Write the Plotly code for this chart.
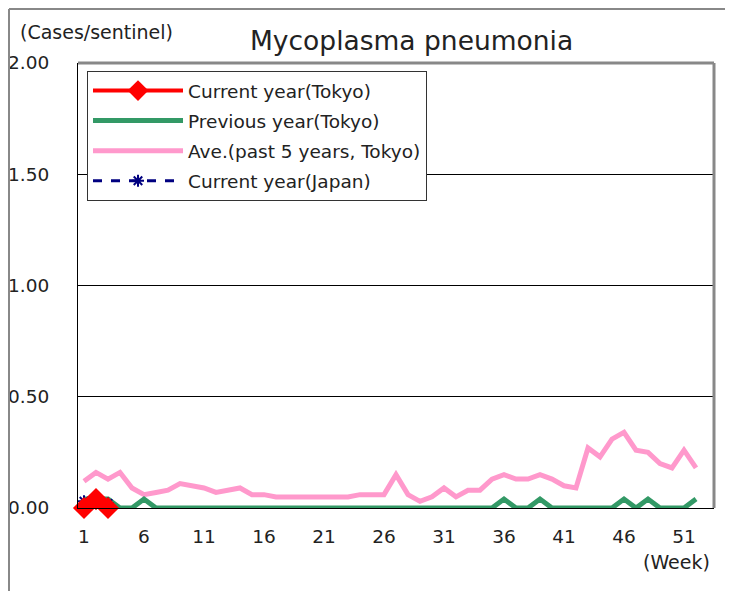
import plotly.graph_objects as go

weeks = list(range(1, 53))
current_tokyo_weeks = [1, 2, 3]
current_tokyo = [0.0, 0.04, 0.0]
current_japan = [0.03, 0.03, 0.02]
previous_tokyo = [0.04, 0.04, 0.04, 0, 0, 0.04, 0, 0, 0, 0,
                  0, 0, 0, 0, 0, 0, 0, 0, 0, 0,
                  0, 0, 0, 0, 0, 0, 0, 0, 0, 0,
                  0, 0, 0, 0, 0, 0.04, 0, 0, 0.04, 0,
                  0, 0, 0, 0, 0, 0.04, 0, 0.04, 0, 0,
                  0, 0.04]
ave_5y = [0.12, 0.16, 0.13, 0.16, 0.09, 0.06, 0.07, 0.08, 0.11, 0.10,
          0.09, 0.07, 0.08, 0.09, 0.06, 0.06, 0.05, 0.05, 0.05, 0.05,
          0.05, 0.05, 0.05, 0.06, 0.06, 0.06, 0.15, 0.06, 0.03, 0.05,
          0.09, 0.05, 0.08, 0.08, 0.13, 0.15, 0.13, 0.13, 0.15, 0.13,
          0.10, 0.09, 0.27, 0.23, 0.31, 0.34, 0.26, 0.25, 0.20, 0.18,
          0.26, 0.18]
x_tick_vals = [1, 6, 11, 16, 21, 26, 31, 36, 41, 46, 51]
x_minor_ticks = [5.5, 10.5, 15.5, 20.5, 25.5, 30.5, 35.5, 40.5, 45.5, 50.5]
y_tick_vals = [0, 0.5, 1.0, 1.5, 2.0]

FONT = "DejaVu Sans"
OFF = 8  # page body margin
W, H = 725, 583
L, R, T, B = 70, 19, 55, 83
pw, ph = W - L - R, H - T - B

def px(x):  # screen x -> paper
    return (x - OFF - L) / pw

def py(y):  # screen y -> paper
    return (H - B - (y - OFF)) / ph

fig = go.Figure()
fig.add_trace(go.Scatter(x=weeks, y=ave_5y, mode="lines", name="Ave.(past 5 years, Tokyo)",
                         line=dict(color="#FF99CC", width=5), legendrank=3, legendgroup="c"))
fig.add_trace(go.Scatter(x=weeks, y=previous_tokyo, mode="lines", name="Previous year(Tokyo)",
                         line=dict(color="#339966", width=5), legendrank=2, legendgroup="b"))
fig.add_trace(go.Scatter(x=current_tokyo_weeks, y=current_japan, mode="lines+markers",
                         name="Current year(Japan)", cliponaxis=False,
                         line=dict(color="#000080", width=3, dash="dash"),
                         marker=dict(symbol="asterisk-open", size=10, color="#000080",
                                     line=dict(color="#000080", width=2)),
                         legendrank=4, legendgroup="d"))
fig.add_trace(go.Scatter(x=current_tokyo_weeks, y=current_tokyo, mode="lines+markers",
                         name="Current year(Tokyo)", cliponaxis=False,
                         line=dict(color="#FF0000", width=4),
                         marker=dict(symbol="diamond", size=17, color="#FF0000"),
                         legendrank=1, legendgroup="a"))

fig.update_layout(
    width=W, height=H,
    margin=dict(l=L, r=R, t=T, b=B, autoexpand=False),
    paper_bgcolor="white", plot_bgcolor="white",
    font=dict(family=FONT, size=18, color="#222"),
    showlegend=True,
    legend=dict(x=px(87), y=py(71), xanchor="left", yanchor="top",
                bgcolor="white", bordercolor="#333", borderwidth=1,
                font=dict(family=FONT, size=18.5, color="#222"),
                tracegroupgap=3, itemwidth=90),
    xaxis=dict(range=[0.5, 53.5], tickmode="array", tickvals=x_tick_vals,
               ticks="", showgrid=False, zeroline=False, automargin=False,
               showline=True, linecolor="black", linewidth=1,
               tickfont=dict(family=FONT, size=18.5, color="#222"),
               ticklabelstandoff=12),
    xaxis2=dict(range=[0.5, 53.5], overlaying="x", anchor="y", side="bottom",
                tickmode="array", tickvals=x_minor_ticks, ticks="inside",
                ticklen=6, tickwidth=1, tickcolor="#444", automargin=False,
                showticklabels=False, showgrid=False, zeroline=False, showline=False),
    yaxis=dict(range=[0, 2.0], tickmode="array", tickvals=y_tick_vals, tickformat=".2f",
               showgrid=True, gridcolor="black", gridwidth=1, zeroline=False,
               showline=True, linecolor="black", linewidth=1, ticks="", automargin=False,
               tickfont=dict(family=FONT, size=18.5, color="#222"),
               ticklabelstandoff=24),
    shapes=[
        dict(type="line", xref="paper", yref="paper", x0=0, x1=1, y0=1, y1=1,
             line=dict(color="#888", width=3)),
        dict(type="line", xref="paper", yref="paper", x0=1, x1=1, y0=0, y1=1,
             line=dict(color="#888", width=3)),
        dict(type="line", xref="paper", yref="paper", x0=px(9), x1=px(9), y0=py(600), y1=py(9),
             line=dict(color="#888", width=2)),
        dict(type="line", xref="paper", yref="paper", x0=px(9), x1=px(740), y0=py(9), y1=py(9),
             line=dict(color="#888", width=2)),
    ],
    annotations=[
        dict(text="Mycoplasma pneumonia", xref="paper", yref="paper", x=px(411), y=py(40),
             xanchor="center", yanchor="middle", showarrow=False,
             font=dict(family=FONT, size=26.5, color="#222")),
        dict(text="(Cases/sentinel)", xref="paper", yref="paper", x=px(18), y=py(32),
             xanchor="left", yanchor="middle", showarrow=False,
             font=dict(family=FONT, size=19, color="#222")),
        dict(text="(Week)", xref="paper", yref="paper", x=px(712), y=py(562),
             xanchor="right", yanchor="middle", showarrow=False,
             font=dict(family=FONT, size=19, color="#222")),
    ],
)

fig.write_html("out.html")
